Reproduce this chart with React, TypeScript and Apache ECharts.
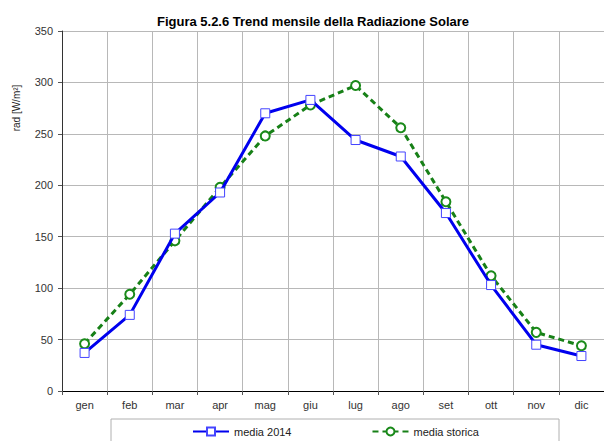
import React, { useEffect, useRef } from "react";
import * as echarts from "echarts";

const months = ["gen", "feb", "mar", "apr", "mag", "giu", "lug", "ago", "set", "ott", "nov", "dic"];
const media2014 = [37, 74, 153, 193, 270, 283, 244, 228, 173, 103, 45, 34];
const mediaStorica = [46, 94, 146, 198, 248, 278, 297, 256, 184, 112, 57, 44];

export default function App() {
  const ref = useRef<HTMLDivElement>(null);
  useEffect(() => {
    const chart = echarts.init(ref.current!, null, { renderer: "svg" });
    const font = "Liberation Sans, Arial, sans-serif";
    chart.setOption({
      animation: false,
      textStyle: { fontFamily: font },
      title: {
        text: "Figura 5.2.6 Trend mensile della Radiazione Solare",
        left: 308,
        textAlign: "center",
        top: 10,
        textStyle: { fontSize: 13, fontWeight: "bold", color: "#000", fontFamily: font },
      },
      grid: { left: 62, top: 31, width: 547, height: 360 },
      xAxis: {
        type: "category",
        data: months,
        boundaryGap: true,
        axisLine: { lineStyle: { color: "#000", width: 1 } },
        axisTick: { show: true, length: 4, lineStyle: { color: "#555" } },
        axisLabel: { color: "#333", fontSize: 11, margin: 8, fontFamily: font },
        splitLine: { show: true, lineStyle: { color: "#b8b8b8", width: 1 } },
      },
      yAxis: {
        type: "value",
        min: 0,
        max: 350,
        interval: 50,
        axisLine: { show: true, lineStyle: { color: "#333", width: 1 } },
        axisTick: { show: true, length: 4, lineStyle: { color: "#555" } },
        axisLabel: { color: "#333", fontSize: 11, margin: 9, fontFamily: font },
        splitLine: { show: true, lineStyle: { color: "#b8b8b8", width: 1 } },
      },
      legend: {
        left: 192,
        top: 426,
        padding: 0,
        itemGap: 80,
        itemWidth: 36,
        itemHeight: 10,
        textStyle: { fontSize: 11, color: "#222", fontFamily: font },
        data: ["media 2014", "media storica"],
      },
      graphic: [
        {
          type: "rect",
          shape: { x: 111, y: 419, width: 448, height: 40 },
          style: { fill: "none", stroke: "#b0b0b0", lineWidth: 1 },
        },
        {
          type: "text",
          x: 16,
          y: 108,
          rotation: Math.PI / 2,
          style: {
            text: "rad [W/m²]",
            fontSize: 10,
            fill: "#222",
            fontFamily: font,
            align: "center",
            verticalAlign: "middle",
          },
        },
      ],
      series: [
        {
          name: "media 2014",
          type: "line",
          data: media2014,
          symbol: "rect",
          symbolSize: 9,
          itemStyle: { color: "#fff", borderColor: "#4444ff", borderWidth: 1 },
          lineStyle: { color: "#0000ee", width: 3 },
          z: 3,
        },
        {
          name: "media storica",
          type: "line",
          data: mediaStorica,
          symbol: "emptyCircle",
          symbolSize: 9,
          itemStyle: { color: "#1a8a1a", borderColor: "#1a8a1a", borderWidth: 1 },
          lineStyle: { color: "#178017", width: 3, type: [6, 4] },
          z: 2,
        },
      ],
    });
    return () => chart.dispose();
  }, []);
  return <div ref={ref} style={{ width: 604, height: 441, position: "absolute", left: 0, top: 0 }} />;
}
